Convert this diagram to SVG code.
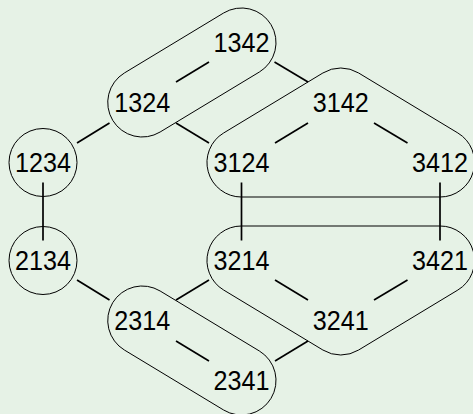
<svg xmlns="http://www.w3.org/2000/svg" width="473" height="414" viewBox="0 0 473 414">
<style>
.bg{fill:#e6f2e6}
.shape{fill:none;stroke:#000;stroke-width:1}
.edge{stroke:#000;stroke-width:1.7;fill:none;stroke-linecap:butt}
text{font-family:"Liberation Sans",Arial,sans-serif;font-size:27px;text-anchor:middle;fill:#000}
</style>
<rect class="bg" x="0" y="0" width="473" height="414"/>
<g id="groups">
<circle class="shape" cx="43" cy="162.5" r="34"/>
<circle class="shape" cx="43" cy="260.5" r="34"/>
<path class="shape" d="M124.4,72.97 L223.65,12.97 A34.5,34.5 0 0 1 259.35,72.03 L160.1,132.03 A34.5,34.5 0 0 1 124.4,72.97 Z"/>
<path class="shape" d="M160.1,290.97 L259.35,350.97 A34.5,34.5 0 0 1 223.65,410.03 L124.4,350.03 A34.5,34.5 0 0 1 160.1,290.97 Z"/>
<path class="shape" d="M223.65,132.97 L322.9,72.97 A34.5,34.5 0 0 1 358.6,72.97 L457.85,132.97 A34.5,34.5 0 0 1 440,197 L241.5,197 A34.5,34.5 0 0 1 223.65,132.97 Z"/>
<path class="shape" d="M241.5,226 L440,226 A34.5,34.5 0 0 1 457.85,290.03 L358.6,350.03 A34.5,34.5 0 0 1 322.9,350.03 L223.65,290.03 A34.5,34.5 0 0 1 241.5,226 Z"/>
</g>
<g id="connectors">
<line class="edge" x1="77" y1="143" x2="109.5" y2="123"/>
<line class="edge" x1="176" y1="82" x2="209" y2="62"/>
<line class="edge" x1="274.5" y1="62" x2="308" y2="82"/>
<line class="edge" x1="176" y1="123" x2="209" y2="143"/>
<line class="edge" x1="275" y1="143" x2="308" y2="123"/>
<line class="edge" x1="374" y1="123" x2="407.5" y2="143"/>
<line class="edge" x1="43" y1="182.5" x2="43" y2="240.5"/>
<line class="edge" x1="241.5" y1="182.5" x2="241.5" y2="240.5"/>
<line class="edge" x1="440" y1="182.5" x2="440" y2="240.5"/>
<line class="edge" x1="77" y1="280" x2="109.5" y2="300"/>
<line class="edge" x1="176" y1="300" x2="209" y2="280"/>
<line class="edge" x1="176" y1="341" x2="209" y2="361"/>
<line class="edge" x1="275" y1="280" x2="308" y2="300"/>
<line class="edge" x1="374" y1="300" x2="407.5" y2="280"/>
<line class="edge" x1="308" y1="341" x2="275" y2="361"/>
</g>
<g id="n1234"><text x="43" y="172" textLength="56" lengthAdjust="spacingAndGlyphs">1234</text></g>
<g id="n1324"><text x="142.25" y="112" textLength="56" lengthAdjust="spacingAndGlyphs">1324</text></g>
<g id="n1342"><text x="241.5" y="52" textLength="56" lengthAdjust="spacingAndGlyphs">1342</text></g>
<g id="n3142"><text x="340.75" y="112" textLength="56" lengthAdjust="spacingAndGlyphs">3142</text></g>
<g id="n3124"><text x="241.5" y="172" textLength="56" lengthAdjust="spacingAndGlyphs">3124</text></g>
<g id="n3412"><text x="440" y="172" textLength="56" lengthAdjust="spacingAndGlyphs">3412</text></g>
<g id="n2134"><text x="43" y="270" textLength="56" lengthAdjust="spacingAndGlyphs">2134</text></g>
<g id="n3214"><text x="241.5" y="270" textLength="56" lengthAdjust="spacingAndGlyphs">3214</text></g>
<g id="n3421"><text x="440" y="270" textLength="56" lengthAdjust="spacingAndGlyphs">3421</text></g>
<g id="n2314"><text x="142.25" y="330" textLength="56" lengthAdjust="spacingAndGlyphs">2314</text></g>
<g id="n3241"><text x="340.75" y="330" textLength="56" lengthAdjust="spacingAndGlyphs">3241</text></g>
<g id="n2341"><text x="241.5" y="390" textLength="56" lengthAdjust="spacingAndGlyphs">2341</text></g>
</svg>
